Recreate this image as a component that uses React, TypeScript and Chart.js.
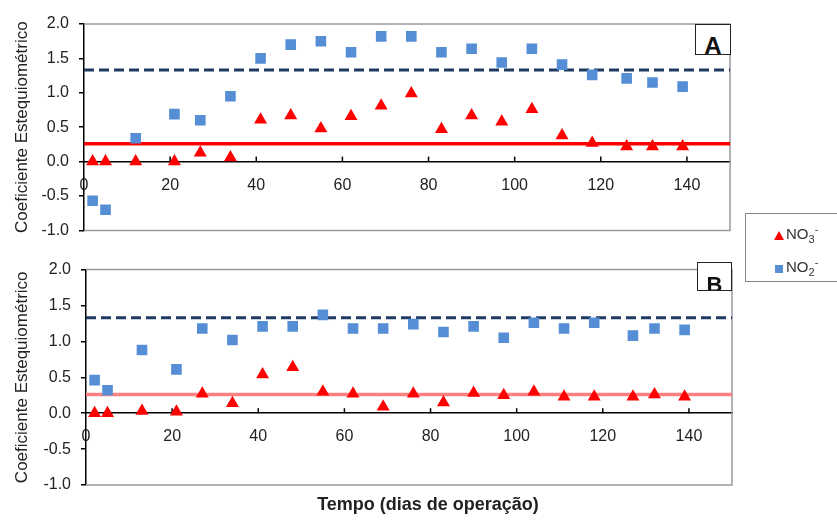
import React, { useEffect, useRef } from "react";
import { Chart, registerables } from "chart.js";

Chart.register(...registerables);

// ---- Data ----
const daysA = [2, 5, 12, 21, 27, 34, 41, 48, 55, 62, 69, 76, 83, 90, 97, 104, 111, 118, 126, 132, 139];
const nitriteA = [-0.57, -0.7, 0.34, 0.69, 0.6, 0.95, 1.5, 1.7, 1.75, 1.59, 1.82, 1.82, 1.59, 1.64, 1.44, 1.64, 1.41, 1.26, 1.21, 1.15, 1.09];
const nitrateA = [0.0, 0.0, 0.0, 0.0, 0.13, 0.06, 0.61, 0.67, 0.48, 0.66, 0.81, 0.99, 0.47, 0.67, 0.58, 0.76, 0.38, 0.27, 0.22, 0.22, 0.22];

const daysB = [2, 5, 13, 21, 27, 34, 41, 48, 55, 62, 69, 76, 83, 90, 97, 104, 111, 118, 127, 132, 139];
const nitriteB = [0.46, 0.32, 0.88, 0.61, 1.18, 1.02, 1.21, 1.21, 1.37, 1.18, 1.18, 1.24, 1.13, 1.21, 1.05, 1.26, 1.18, 1.26, 1.08, 1.18, 1.16];
const nitrateB = [0.0, 0.0, 0.03, 0.02, 0.27, 0.14, 0.54, 0.64, 0.3, 0.27, 0.09, 0.27, 0.15, 0.28, 0.25, 0.3, 0.23, 0.23, 0.23, 0.26, 0.23];

const nitrateRef = 0.26;
const nitriteRef = 1.33;
const xRange = [0, 150];
const yRange = [-1, 2];
const xTickStep = 20;
const yTickStep = 0.5;

const yTitle = "Coeficiente Estequiométrico";
const xTitle = "Tempo (dias de operação)";

const BLUE = "#558ED5";
const RED = "#FF0000";
const NAVY = "#1F3A63";

const framePlugin = {
  id: "frame",
  beforeDatasetsDraw(chart: any) {
    const { ctx, chartArea } = chart;
    const { left, right, top, bottom } = chartArea;
    ctx.save();
    ctx.strokeStyle = "#9a9a9a";
    ctx.lineWidth = 1.5;
    ctx.beginPath();
    ctx.moveTo(left, top);
    ctx.lineTo(right, top);
    ctx.lineTo(right, bottom);
    ctx.lineTo(left, bottom);
    ctx.stroke();
    // upward x tick marks at y=0
    const xs = chart.scales.x;
    const ys = chart.scales.y;
    const y0 = ys.getPixelForValue(0);
    ctx.strokeStyle = "#000";
    ctx.lineWidth = 1.5;
    xs.ticks.forEach((t: any) => {
      const px = xs.getPixelForValue(t.value);
      if (t.value === 0) return;
      ctx.beginPath();
      ctx.moveTo(px, y0);
      ctx.lineTo(px, y0 - 5);
      ctx.stroke();
    });
    ctx.restore();
  },
};

function makeConfig(days: number[], nitrite: number[], nitrate: number[], refRed: string, yWidth: number, padding: any) {
  return {
    type: "scatter" as const,
    data: {
      datasets: [
        {
          label: "ref NO2",
          data: [{ x: xRange[0], y: nitriteRef }, { x: xRange[1], y: nitriteRef }],
          showLine: true,
          borderColor: NAVY,
          borderWidth: 3,
          borderDash: [10, 5],
          pointRadius: 0,
          order: 3,
        },
        {
          label: "ref NO3",
          data: [{ x: xRange[0], y: nitrateRef }, { x: xRange[1], y: nitrateRef }],
          showLine: true,
          borderColor: refRed,
          borderWidth: 3.5,
          pointRadius: 0,
          order: 3,
        },
        {
          label: "NO2-",
          data: days.map((d, i) => ({ x: d, y: nitrite[i] })),
          pointStyle: "rect",
          pointRadius: 7.5,
          backgroundColor: BLUE,
          borderColor: BLUE,
          borderWidth: 0,
          order: 1,
        },
        {
          label: "NO3-",
          data: days.map((d, i) => ({ x: d, y: nitrate[i] })),
          pointStyle: "triangle",
          pointRadius: 7.5,
          backgroundColor: RED,
          borderColor: RED,
          borderWidth: 0,
          order: 1,
        },
      ],
    },
    options: {
      animation: false,
      responsive: false,
      devicePixelRatio: 1,
      layout: { padding },
      plugins: { legend: { display: false }, tooltip: { enabled: false } },
      scales: {
        x: {
          type: "linear",
          position: { y: 0 },
          min: xRange[0],
          max: xRange[1],
          afterBuildTicks: (scale: any) => {
            scale.ticks = scale.ticks.filter((t: any) => t.value % xTickStep === 0);
          },
          ticks: {
            stepSize: xTickStep,
            color: "#222",
            font: { family: "Liberation Sans, Arial", size: 16 },
            padding: 14,
            maxRotation: 0,
          },
          grid: { display: true, drawOnChartArea: false, drawTicks: false },
          border: { display: true, color: "#000", width: 1.5 },
        },
        y: {
          type: "linear",
          position: "left",
          min: yRange[0],
          max: yRange[1],
          afterFit: (scale: any) => {
            scale.width = yWidth;
          },
          ticks: {
            stepSize: yTickStep,
            color: "#222",
            font: { family: "Liberation Sans, Arial", size: 16 },
            padding: 10,
            callback: (v: any) => Number(v).toFixed(1),
          },
          grid: { display: true, drawOnChartArea: false, drawTicks: true, tickLength: 5, color: "#000", lineWidth: 1.5 },
          border: { display: true, color: "#000", width: 1.5 },
          title: {
            display: true,
            text: yTitle,
            color: "#222",
            font: { family: "Liberation Sans, Arial", size: 17 },
            padding: { top: 12, bottom: 0 },
          },
        },
      },
    },
    plugins: [framePlugin],
  };
}

function ChartCanvas({ config, width, height }: { config: any; width: number; height: number }) {
  const ref = useRef<HTMLCanvasElement | null>(null);
  useEffect(() => {
    if (!ref.current) return;
    const chart = new Chart(ref.current, config);
    return () => chart.destroy();
  }, [config]);
  return <canvas ref={ref} width={width} height={height} style={{ width, height, display: "block" }} />;
}

const configA = makeConfig(daysA, nitriteA, nitrateA, RED, 84, { left: 0, right: 10, top: 24, bottom: 18 });
const configB = makeConfig(daysB, nitriteB, nitrateB, "#FF8080", 86, { left: 0, right: 10, top: 13, bottom: 35 });

const boxStyle: React.CSSProperties = {
  position: "absolute",
  border: "1.5px solid #222",
  background: "#fff",
  overflow: "hidden",
  boxSizing: "border-box",
  fontFamily: "Liberation Sans, Arial",
  fontWeight: "bold",
  textAlign: "center",
  color: "#111",
};

export default function App() {
  return (
    <div style={{ position: "fixed", left: 0, top: 0, width: 837, height: 520, background: "#fff", overflow: "hidden" }}>
      <div style={{ position: "absolute", left: 0, top: 0 }}>
        <ChartCanvas config={configA} width={740} height={250} />
      </div>
      <div style={{ position: "absolute", left: 0, top: 250 }}>
        <ChartCanvas config={configB} width={742} height={270} />
      </div>
      <div style={{ ...boxStyle, left: 695, top: 24, width: 36, height: 31, fontSize: 24, lineHeight: "42px" }}>A</div>
      <div style={{ ...boxStyle, left: 697, top: 262, width: 35, height: 29, fontSize: 22, lineHeight: "44px" }}>B</div>
      <div
        style={{
          position: "absolute",
          left: 300,
          top: 494,
          width: 256,
          textAlign: "center",
          fontFamily: "Liberation Sans, Arial",
          fontWeight: "bold",
          fontSize: 18,
          color: "#222",
          whiteSpace: "nowrap",
        }}
      >
        {xTitle}
      </div>
      <div
        style={{
          position: "absolute",
          left: 745,
          top: 213,
          width: 110,
          height: 69,
          border: "1px solid #888",
          boxSizing: "border-box",
          fontFamily: "Liberation Sans, Arial",
          fontSize: 15,
          color: "#333",
        }}
      >
        <div style={{ position: "absolute", left: 28, top: 17, width: 0, height: 0, borderLeft: "5px solid transparent", borderRight: "5px solid transparent", borderBottom: "9px solid " + RED }} />
        <div style={{ position: "absolute", left: 40, top: 9, whiteSpace: "nowrap" }}>
          NO<sub style={{ fontSize: 11 }}>3</sub>
          <sup style={{ fontSize: 11 }}>-</sup>
        </div>
        <div style={{ position: "absolute", left: 29, top: 51, width: 8, height: 8, background: BLUE }} />
        <div style={{ position: "absolute", left: 40, top: 42, whiteSpace: "nowrap" }}>
          NO<sub style={{ fontSize: 11 }}>2</sub>
          <sup style={{ fontSize: 11 }}>-</sup>
        </div>
      </div>
    </div>
  );
}
